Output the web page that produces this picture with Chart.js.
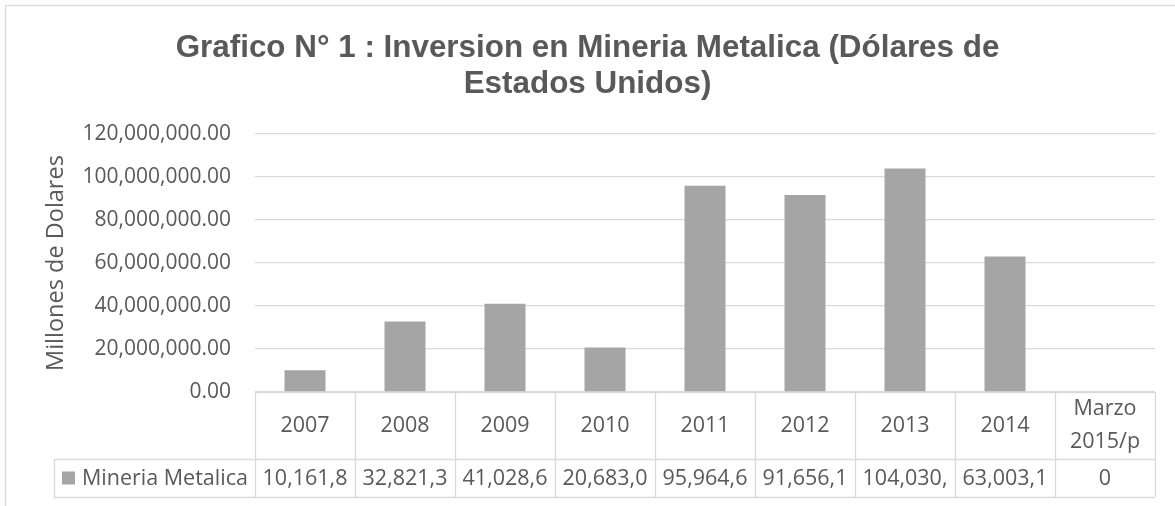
<!DOCTYPE html>
<html><head><meta charset="utf-8">
<script src="https://cdn.jsdelivr.net/npm/chart.js@4/dist/chart.umd.min.js"></script>
<style>html,body{margin:0;padding:0;background:#fff;}#wrap{width:1175px;height:506px;}</style>
</head><body><div id="wrap"><canvas id="c" width="1175" height="506"></canvas></div>
<script>
// ---- data ----
const titleLines = ['Grafico N° 1 : Inversion en Mineria Metalica (Dólares de', 'Estados Unidos)'];
const yAxisTitle = 'Millones de Dolares';
const categories = ['2007', '2008', '2009', '2010', '2011', '2012', '2013', '2014', ['Marzo', '2015/p']];
const seriesName = 'Mineria Metalica';
const mineriaMetalica = [10161800, 32821300, 41028600, 20683000, 95964600, 91656100, 104030000, 63003100, 0];
const yMin = 0, yMax = 120000000, yStep = 20000000;

// ---- styles ----
const GRAY_TEXT = '#595959';
const GRID = '#d9d9d9';
const BAR = '#a5a5a5';
const TICK_FONT = {family: 'Open Sans', size: 21};
const TABLE_FONT = '21.5px "Open Sans"';

function fmt2(v) {
  return v.toLocaleString('en-US', {minimumFractionDigits: 2, maximumFractionDigits: 2});
}
function fitText(ctx, s, maxW) {
  while (s.length > 1 && ctx.measureText(s).width > maxW) s = s.slice(0, -1);
  return s;
}

const tablePlugin = {
  id: 'dataTable',
  beforeDraw(chart) {
    const ctx = chart.ctx;
    ctx.save();
    ctx.fillStyle = '#fff';
    ctx.fillRect(0, 0, chart.width, chart.height);
    ctx.strokeStyle = GRID;
    ctx.lineWidth = 1.3;
    ctx.strokeRect(5.5, 5.5, chart.width + 20, chart.height + 20);
    ctx.restore();
  },
  afterDraw(chart) {
    const ctx = chart.ctx;
    const xs = chart.scales.x;
    const area = chart.chartArea;
    const n = categories.length;
    const cw = xs.getPixelForValue(1) - xs.getPixelForValue(0);
    const top = area.bottom;
    const mid = top + 67;
    const bot = top + 105;
    const leftCell = area.left - 201;
    ctx.save();
    ctx.strokeStyle = GRID;
    ctx.lineWidth = 1.3;
    ctx.beginPath();
    ctx.moveTo(area.left, top + 0.5); ctx.lineTo(area.right, top + 0.5);
    ctx.moveTo(leftCell, mid + 0.5); ctx.lineTo(area.right, mid + 0.5);
    ctx.moveTo(leftCell, bot + 0.5); ctx.lineTo(area.right, bot + 0.5);
    ctx.moveTo(leftCell + 0.5, mid); ctx.lineTo(leftCell + 0.5, bot);
    for (let i = 0; i <= n; i++) {
      const x = Math.round(xs.getPixelForValue(i) - cw / 2) + 0.5;
      ctx.moveTo(x, top); ctx.lineTo(x, bot);
    }
    ctx.stroke();

    ctx.fillStyle = GRAY_TEXT;
    ctx.font = TABLE_FONT;
    ctx.textAlign = 'center';
    ctx.textBaseline = 'middle';
    const data = chart.data.datasets[0].data;
    for (let i = 0; i < n; i++) {
      const cx = xs.getPixelForValue(i);
      const lab = categories[i];
      if (Array.isArray(lab)) {
        const lh = 33;
        const y0 = (top + mid) / 2 - lh * (lab.length - 1) / 2;
        lab.forEach((t, k) => ctx.fillText(t, cx, y0 + k * lh));
      } else {
        ctx.fillText(lab, cx, (top + mid) / 2);
      }
      const v = data[i];
      const s = v === 0 ? '0' : fitText(ctx, fmt2(v), cw - 10);
      ctx.fillText(s, cx, (mid + bot) / 2 + 1);
    }
    // legend key + series name
    const ky = (mid + bot) / 2;
    ctx.fillStyle = BAR;
    ctx.fillRect(leftCell + 8, ky - 6.5, 13, 13);
    ctx.fillStyle = GRAY_TEXT;
    ctx.textAlign = 'left';
    ctx.fillText(chart.data.datasets[0].label, leftCell + 28, ky + 1);
    ctx.restore();
  }
};

new Chart(document.getElementById('c'), {
  type: 'bar',
  data: {
    labels: categories,
    datasets: [{
      label: seriesName,
      data: mineriaMetalica,
      backgroundColor: BAR,
      borderWidth: 0,
      categoryPercentage: 1,
      barPercentage: 0.41
    }]
  },
  options: {
    responsive: false,
    animation: false,
    devicePixelRatio: 1,
    layout: {padding: {left: 20, right: 20, top: 0, bottom: 114}},
    plugins: {
      legend: {display: false},
      tooltip: {enabled: false},
      title: {
        display: true,
        text: titleLines,
        color: GRAY_TEXT,
        font: {family: '"Liberation Sans", Arial, sans-serif', size: 31.4, weight: 'bold', lineHeight: 1.14},
        padding: {top: 30.5, bottom: 32}
      }
    },
    scales: {
      x: {display: false, offset: true},
      y: {
        min: yMin, max: yMax,
        afterFit(scale) { scale.width = 235; },
        ticks: {
          stepSize: yStep,
          color: GRAY_TEXT,
          font: TICK_FONT,
          padding: 24,
          callback: (v) => fmt2(v)
        },
        grid: {color: GRID, lineWidth: 1.3, drawTicks: false},
        border: {display: false},
        title: {
          display: true,
          text: yAxisTitle,
          color: GRAY_TEXT,
          font: {family: 'Open Sans', size: 23.5},
          padding: {top: 22, bottom: 0}
        }
      }
    }
  },
  plugins: [tablePlugin]
});
</script></body></html>
